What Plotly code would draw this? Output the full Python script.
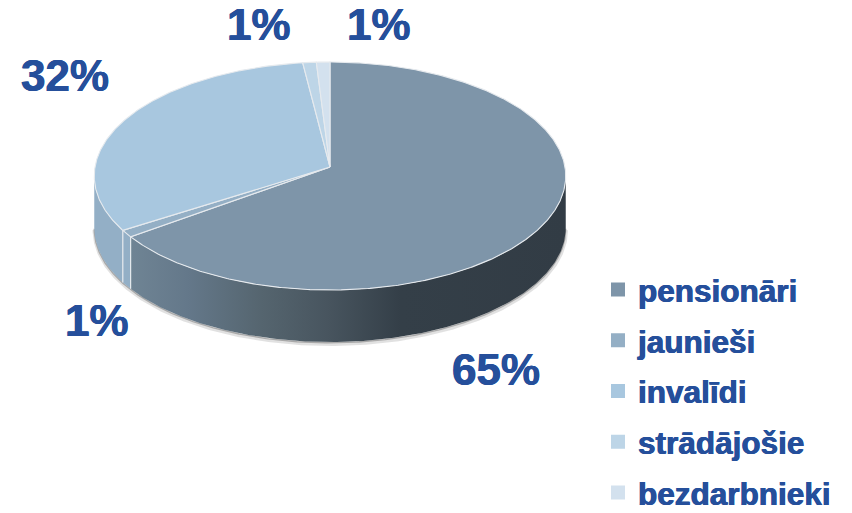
import numpy as np
import plotly.graph_objects as go

categories = ["pensionāri", "jaunieši", "invalīdi", "strādājošie", "bezdarbnieki"]
values = [65, 1, 32, 1, 1]
colors = ["#7e95a9", "#94afc5", "#a8c7df", "#bdd5e7", "#d3e1ee"]
wall_colors = ["#4a5965", "#93afc6", "#93afc6", "#bdd5e7", "#d3e1ee"]

CX, CY, RX, RY, K, DEPTH = 330.0, 167.0, 235.0, 113.3, 0.079, 52.0
RIM = "#e6eaee"
TEXT = "#254f9b"
FONT = "Liberation Sans"
THICK = f"0.4px 0 0 {TEXT}, -0.4px 0 0 {TEXT}"
FIG_H = 524


def project(theta_deg):
    t = np.radians(np.asarray(theta_deg, dtype=float))
    d = 1 + K * np.cos(t)
    return CX + RX * np.sin(t) / d, CY - RY * np.cos(t) / d


def arc(a, b):
    return np.linspace(a, b, max(int(abs(b - a) * 2), 2) + 1)


fig = go.Figure()
total = sum(values)
edges = np.concatenate([[0], np.cumsum(values)]) / total * 360
wall_a, wall_b = 94.5, 265.5

# soft shadow under the pie's side wall
sx, sy = project(arc(wall_a, wall_b))
fig.add_trace(go.Scatter(x=sx + 0.3, y=sy + DEPTH + 2, mode="lines", showlegend=False, hoverinfo="skip",
                         line=dict(color="rgba(120,120,120,0.22)", width=4)))
fig.add_trace(go.Scatter(x=sx, y=sy + DEPTH + 0.8, mode="lines", showlegend=False, hoverinfo="skip",
                         line=dict(color="rgba(150,150,150,0.75)", width=1.4)))

# side walls
for i, cat in enumerate(categories):
    a, b = max(edges[i], wall_a), min(edges[i + 1], wall_b)
    if b <= a:
        continue
    px, py = project(arc(a, b))
    xs = np.concatenate([px, px[::-1], px[:1]])
    ys = np.concatenate([py, py[::-1] + DEPTH, py[:1]])
    kw = dict(fillcolor=wall_colors[i])
    if i == 0:
        kw = dict(fillgradient=dict(type="horizontal", start=131, stop=566, colorscale=[
            [0, "#6f8494"], [0.13, "#64788a"], [0.30, "#55656f"], [0.45, "#48555f"],
            [0.62, "#343f48"], [1, "#323c45"]]))
    fig.add_trace(go.Scatter(x=xs, y=ys, mode="lines", fill="toself", showlegend=False, hoverinfo="skip",
                             line=dict(color="rgba(0,0,0,0)", width=0), **kw))
    # white seams on the wall at the slice edges
    if i in (1, 2):
        ex, ey = project([a])
        fig.add_trace(go.Scatter(x=[ex[0], ex[0]], y=[ey[0], ey[0] + DEPTH], mode="lines", showlegend=False,
                                 hoverinfo="skip", line=dict(color=RIM, width=1.2)))

# top face slices
for i, cat in enumerate(categories):
    px, py = project(arc(edges[i], edges[i + 1]))
    fig.add_trace(go.Scatter(x=np.concatenate([[CX], px, [CX]]), y=np.concatenate([[CY], py, [CY]]),
                             mode="lines", fill="toself", fillcolor=colors[i], showlegend=False, name=cat,
                             hoverinfo="skip", line=dict(color=RIM, width=1.1)))

# legend
for i, cat in enumerate(categories):
    fig.add_trace(go.Scatter(x=[None], y=[None], mode="markers", name=cat, legendgroup=cat,
                             marker=dict(symbol="square", size=14, color=colors[i])))

# percentage labels
label_pos = [(496, 369), (97, 320), (65, 75), (259, 24), (379, 24)]
for v, (lx, ly) in zip(values, label_pos):
    fig.add_annotation(x=lx, y=ly, text=f"{v}%", showarrow=False, xref="x", yref="y",
                       font=dict(family=FONT, size=44, color=TEXT, weight="bold", shadow=THICK))

fig.update_layout(
    width=852, height=FIG_H, margin=dict(l=0, r=0, t=0, b=0, autoexpand=False),
    paper_bgcolor="white", plot_bgcolor="white",
    xaxis=dict(range=[0, 852], visible=False, fixedrange=True),
    yaxis=dict(range=[FIG_H, 0], visible=False, fixedrange=True),
    legend=dict(x=598 / 852, y=1 - 262.5 / FIG_H, yanchor="top", xanchor="left",
                font=dict(family=FONT, size=31.5, color=TEXT, weight="bold", shadow=THICK),
                tracegroupgap=6.8, itemsizing="trace", bgcolor="rgba(0,0,0,0)", borderwidth=0),
)
fig.write_html("out.html", config={"displayModeBar": False},
               post_script="document.body.style.margin='0';document.body.style.overflow='hidden';")
